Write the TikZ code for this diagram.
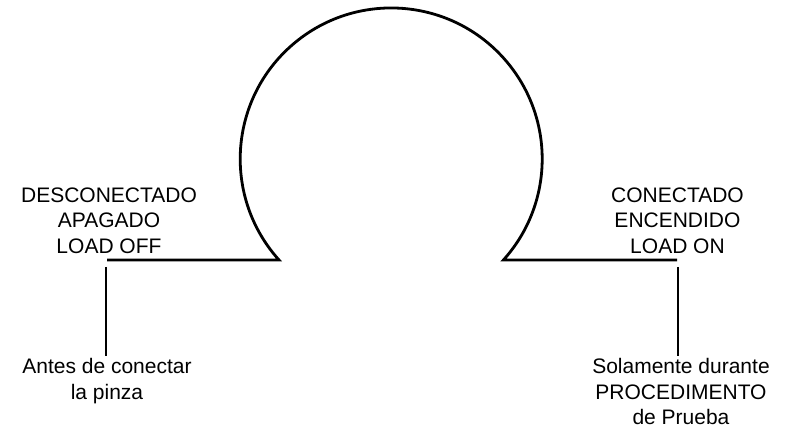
\documentclass[tikz,border=0pt]{standalone}
\usepackage{fontspec}
\setmainfont{Liberation Sans}
\usepackage{tikz}
\usetikzlibrary{positioning,calc}
\tikzset{
  state/.style={align=center,inner sep=0pt,font=\fontsize{10.5}{12.75}\selectfont},
  note/.style={state,inner sep=1pt},
  wire/.style={draw,line width=1.4pt,line join=miter},
}

\begin{document}
\begin{tikzpicture}[x=0.5pt,y=0.5pt]
  \useasboundingbox (0,0) rectangle (789,429);
  % ---- loop points ----
  \coordinate (lend) at (107,169);
  \coordinate (lfoot) at (279,169);
  \coordinate (rend) at (677,169);
  \coordinate (ltop) at (106,162);
  \coordinate (rtop) at (678,162);
  % ---- state labels ----
  \node[state,anchor=north] (off) at (109,242) {DESCONECTADO\\APAGADO\\LOAD OFF};
  \node[state,anchor=north] (on) at (677.5,242) {CONECTADO\\ENCENDIDO\\LOAD ON};
  % ---- notes ----
  \node[note,anchor=north] (lnote) at (107,73) {Antes de conectar\\la pinza};
  \node[note,anchor=north] (rnote) at (681,73) {Solamente durante\\PROCEDIMENTO\\de Prueba};
  % ---- loop ----
  \draw[wire] (lend) -- (lfoot) arc[start angle=222,end angle=-42,radius=151] -- (rend);
  % ---- leads ----
  \draw[wire] (ltop) -- (ltop |- lnote.north);
  \draw[wire] (rtop) -- (rtop |- rnote.north);
\end{tikzpicture}
\end{document}
